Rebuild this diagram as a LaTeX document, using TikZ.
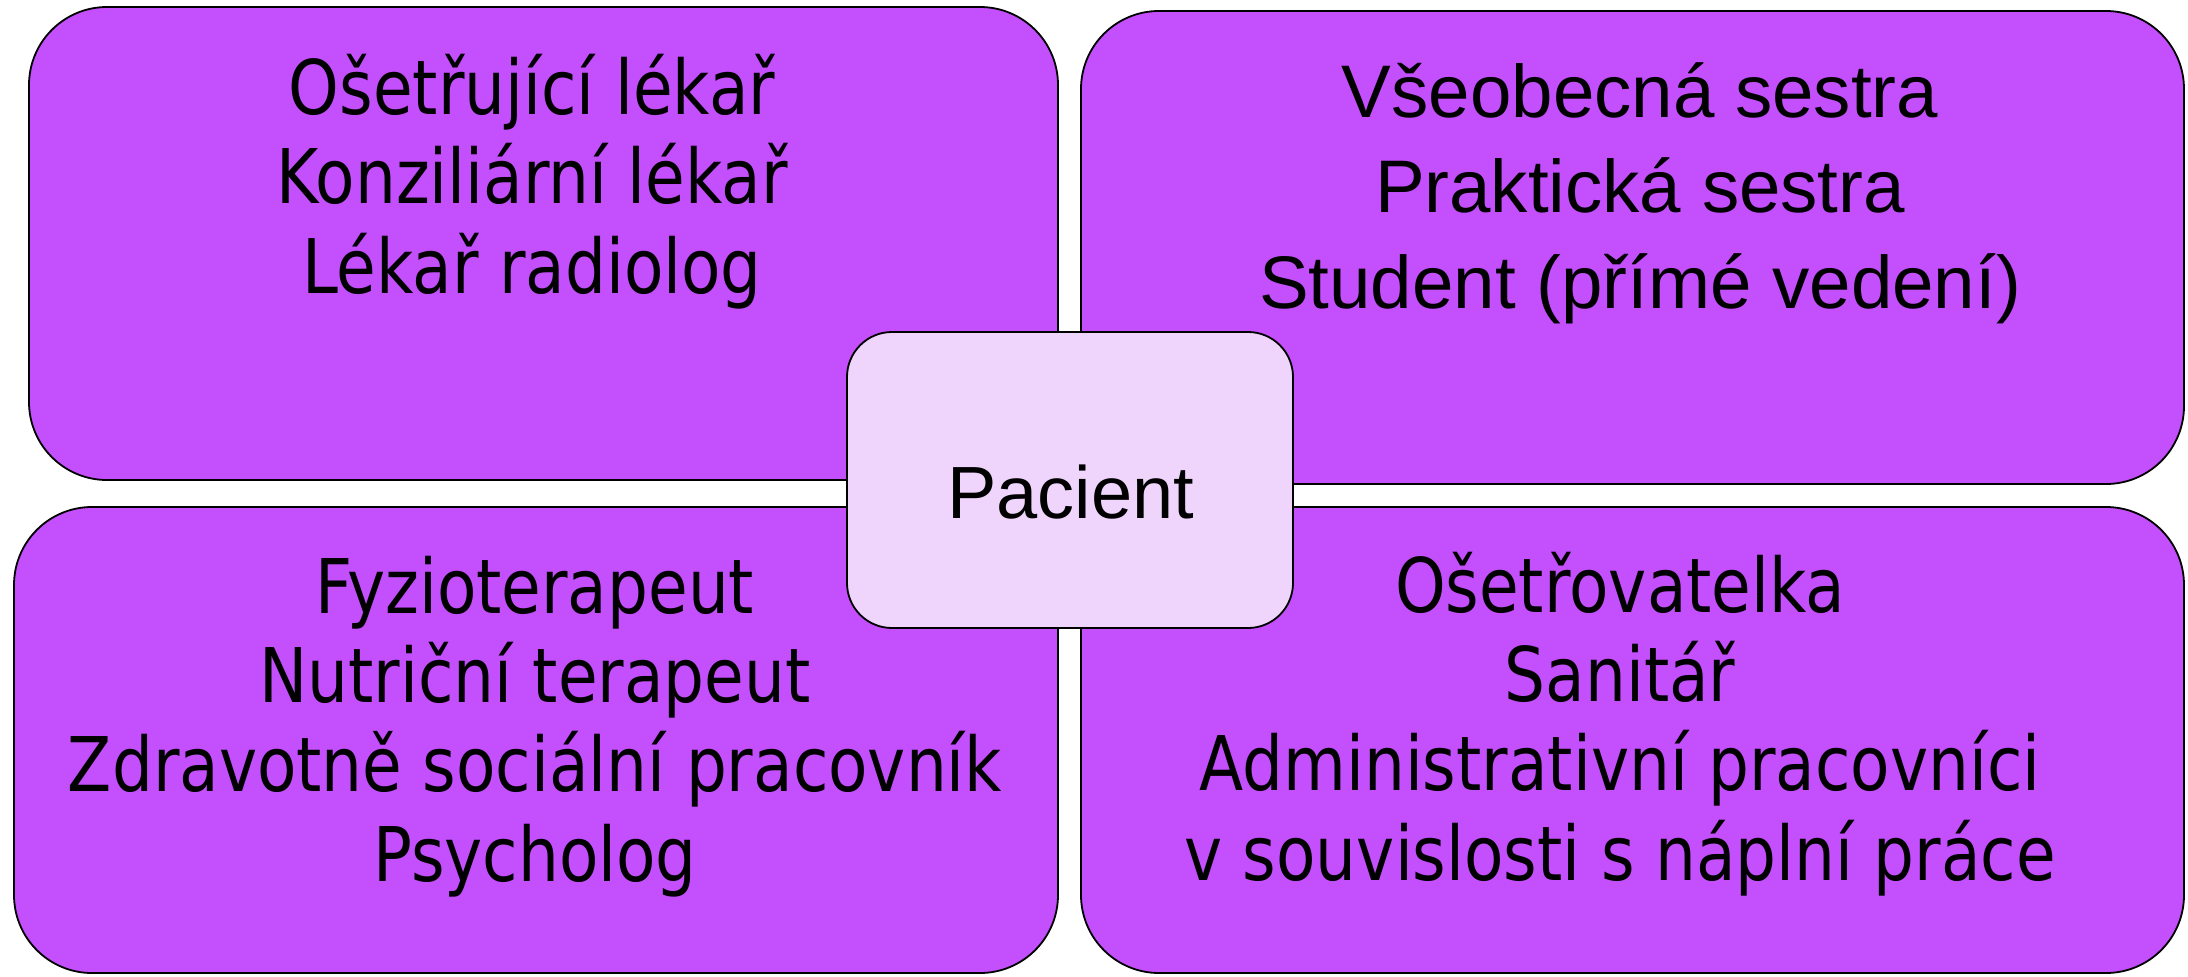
\documentclass[tikz,border=0pt]{standalone}
\usepackage{fontspec}
\newfontfamily\tahomaish[FakeStretch=0.855]{DejaVu Sans}
\newfontfamily\arialish{Liberation Sans}
\definecolor{teampurple}{HTML}{C44FFD}
\definecolor{patientpink}{HTML}{EFD5FB}
\begin{document}
\begin{tikzpicture}[x=1pt,y=-1pt,
  team/.style={draw=black, line width=1.8pt, fill=teampurple, rounded corners=78pt, inner sep=0pt},
  patient/.style={draw=black, line width=1.8pt, fill=patientpink, rounded corners=45pt, inner sep=0pt},
  roles/.style={anchor=base, align=center, inner sep=0pt, font=\tahomaish\fontsize{75.4}{89.3}\selectfont},
  rolesarial/.style={anchor=base, align=center, inner sep=0pt, font=\arialish\fontsize{74.5}{95.5}\selectfont}]
\useasboundingbox (0,0) rectangle (2188,977);
% four team boxes
\node[team, minimum width=1029pt, minimum height=473pt] (doctors) at (543.5,243.5) {};
\node[team, minimum width=1103pt, minimum height=473pt] (nurses) at (1632.5,247.5) {};
\node[team, minimum width=1044pt, minimum height=466pt] (therapists) at (536,740) {};
\node[team, minimum width=1103pt, minimum height=466pt] (staff) at (1632.5,740) {};
% texts (anchored at the baseline of the last line)
\node[roles] (doctorstext) at (532,293) {Ošetřující lékař\\Konziliární lékař\\Lékař radiolog};
\node[rolesarial] (nursestext) at (1640,308) {Všeobecná sestra\\Praktická sestra\\Student (přímé vedení)};
\node[roles] (therapiststext) at (535,881) {Fyzioterapeut\\Nutriční terapeut\\Zdravotně sociální pracovník\\Psycholog};
\node[roles] (stafftext) at (1620,880) {Ošetřovatelka\\Sanitář\\Administrativní pracovníci\\v souvislosti s náplní práce};
% patient in the middle
\node[patient, minimum width=446pt, minimum height=296pt] (pacient) at (1070,480) {};
\node[anchor=base, inner sep=0pt, font=\arialish\fontsize{74}{89}\selectfont] (pacienttext) at (1070.5,518) {Pacient};
\end{tikzpicture}
\end{document}
